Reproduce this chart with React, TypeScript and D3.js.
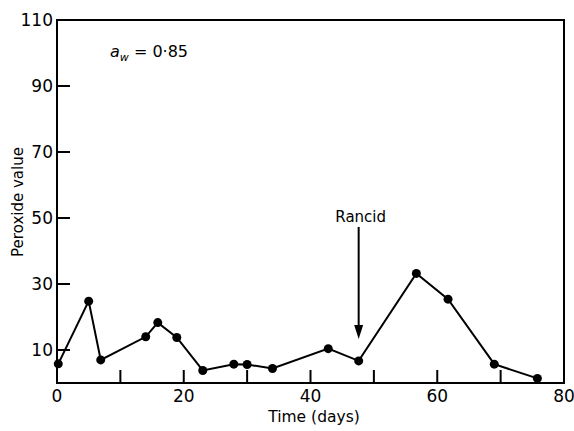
import React from "react";
import * as d3 from "d3";

const days = [0.2, 5, 6.9, 14, 15.9, 18.9, 23, 27.9, 30, 34, 42.8, 47.6, 56.7, 61.7, 69, 75.8];
const peroxide = [5.8, 24.8, 7.0, 14.0, 18.3, 13.8, 3.8, 5.7, 5.6, 4.4, 10.4, 6.7, 33.2, 25.4, 5.7, 1.4];
const xTickMarks = [10, 20, 30, 40, 50, 60, 70];
const xTickLabels = [0, 20, 40, 60, 80];
const yTickMarks = [10, 30, 50, 70, 90];
const yTickLabels = [10, 30, 50, 70, 90, 110];
const rancidDay = 47.6;
const rancidValue = 6.7;

const W = 574;
const H = 431;
const FONT = "'DejaVu Sans', 'Liberation Sans', sans-serif";

export default function App() {
  const x = d3.scaleLinear().domain([0, 80]).range([57, 564]);
  const y = d3.scaleLinear().domain([0, 110]).range([383, 20]);
  const pts = days.map((d, i) => [x(d), y(peroxide[i])] as [number, number]);
  const line = d3.line<[number, number]>()(pts) || "";
  const ax = x(rancidDay);
  const tipY = y(rancidValue) - 22;
  return (
    <svg
      width={W}
      height={H}
      style={{ position: "absolute", left: 0, top: 0, background: "#fff" }}
      fontFamily={FONT}
    >
      <rect x={0} y={0} width={W} height={H} fill="#fff" />
      {/* frame */}
      <path
        d={`M${x(0)},${y(110)} L${x(80)},${y(110)} L${x(80)},${y(0)} L${x(0)},${y(0)} Z`}
        fill="none"
        stroke="#000"
        strokeWidth={2}
      />
      {/* y ticks */}
      {yTickMarks.map((v) => (
        <line key={"yt" + v} x1={x(0)} x2={x(0) + 13} y1={y(v)} y2={y(v)} stroke="#000" strokeWidth={2} />
      ))}
      {yTickLabels.map((v) => (
        <text key={"yl" + v} x={x(0) - 4} y={y(v) + 6} fontSize={17} textAnchor="end" fill="#000">
          {v}
        </text>
      ))}
      {/* x ticks */}
      {xTickMarks.map((v) => (
        <line key={"xt" + v} x1={x(v)} x2={x(v)} y1={y(0)} y2={y(0) - 13} stroke="#000" strokeWidth={2} />
      ))}
      {xTickLabels.map((v) => (
        <text key={"xl" + v} x={x(v)} y={402} fontSize={17} textAnchor="middle" fill="#000">
          {v}
        </text>
      ))}
      {/* axis titles */}
      <text x={314} y={422} fontSize={15.5} textAnchor="middle" fill="#000">
        Time (days)
      </text>
      <text
        transform={`translate(23,202) rotate(-90)`}
        fontSize={15}
        textAnchor="middle"
        fill="#000"
      >
        Peroxide value
      </text>
      {/* aw label */}
      <text x={110} y={57} fontSize={16} fill="#000">
        <tspan fontStyle="italic">a</tspan>
        <tspan fontSize={11} dy={4} fontStyle="italic">w</tspan>
        <tspan dy={-4}> = 0·85</tspan>
      </text>
      {/* data line */}
      <path d={line} fill="none" stroke="#000" strokeWidth={2} />
      {pts.map((p, i) => (
        <circle key={"p" + i} cx={p[0]} cy={p[1]} r={4.5} fill="#000" />
      ))}
      {/* Rancid arrow */}
      <text x={ax + 2} y={222} fontSize={15} textAnchor="middle" fill="#000">
        Rancid
      </text>
      <line x1={ax} x2={ax} y1={227} y2={tipY - 12} stroke="#000" strokeWidth={2} />
      <path d={`M${ax - 4.5},${tipY - 14} L${ax + 4.5},${tipY - 14} L${ax},${tipY} Z`} fill="#000" />
    </svg>
  );
}
